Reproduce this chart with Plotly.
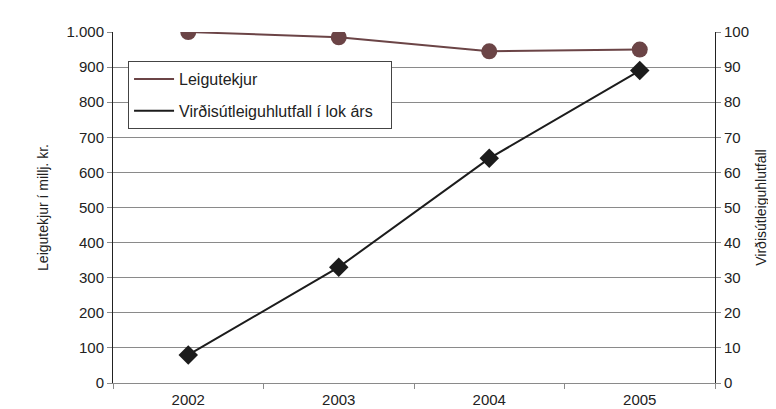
import plotly.graph_objects as go

years = ["2002", "2003", "2004", "2005"]
leigutekjur = [1000, 985, 945, 950]
virdisutleiga = [8, 33, 64, 89]

name1 = "Leigutekjur"
name2 = "Virðisútleiguhlutfall í lok árs"
c1 = "#6b4446"
c2 = "#1c1c1c"
grid = "#8a8a8a"
font = "Liberation Sans, Arial, sans-serif"
pad = "\u00a0\u00a0\u00a0"

fig = go.Figure()
fig.add_trace(go.Scatter(x=years, y=leigutekjur, mode="lines+markers", name=name1,
                         line=dict(color=c1, width=2), marker=dict(symbol="circle", size=16, color=c1),
                         showlegend=False))
fig.add_trace(go.Scatter(x=years, y=virdisutleiga, mode="lines+markers", name=name2, yaxis="y2",
                         line=dict(color=c2, width=2), marker=dict(symbol="diamond", size=15, color=c2),
                         showlegend=False))
# legend entries (lines only)
fig.add_trace(go.Scatter(x=[None], y=[None], mode="lines", name=name1, legendgroup="a",
                         line=dict(color=c1, width=2)))
fig.add_trace(go.Scatter(x=[None], y=[None], mode="lines", name=name2 + pad, legendgroup="b",
                         line=dict(color=c2, width=2)))

tickfont = dict(family=font, size=15, color="#222")
titlefont = dict(family=font, size=14, color="#222")

fig.update_layout(
    width=776, height=409,
    margin=dict(l=105, r=69, t=24, b=34, autoexpand=False),
    paper_bgcolor="white", plot_bgcolor="white",
    font=dict(family=font, size=15, color="#222"),
    separators=",.",
    showlegend=True,
    legend=dict(x=0.025, y=0.917, xanchor="left", yanchor="top",
                bgcolor="white", bordercolor="#444", borderwidth=1,
                font=dict(family=font, size=16, color="#222"), tracegroupgap=8, itemwidth=40),
    xaxis=dict(type="category", showgrid=False, showline=True, linecolor=grid, linewidth=1,
               ticks="outside", tickson="boundaries", ticklen=5, tickcolor=grid,
               ticklabelstandoff=3,
               range=[-0.5, 3.5], zeroline=False, tickfont=tickfont),
    yaxis=dict(range=[0, 1000], dtick=100, tickformat=",d", showgrid=True, gridcolor=grid,
               gridwidth=1, showline=True, linecolor="#222", linewidth=1,
               ticks="outside", ticklen=5, tickcolor=grid, zeroline=False, tickfont=tickfont,
               title=dict(text="Leigutekjur í millj. kr.", standoff=14, font=titlefont)),
    yaxis2=dict(range=[0, 100], dtick=10, overlaying="y", side="right", showgrid=False,
                showline=True, linecolor="#222", linewidth=1, ticks="outside", ticklen=5,
                tickcolor=grid, zeroline=False, tickfont=tickfont,
                title=dict(text="Virðisútleiguhlutfall", standoff=8, font=titlefont)),
)
fig.write_html("out.html")
